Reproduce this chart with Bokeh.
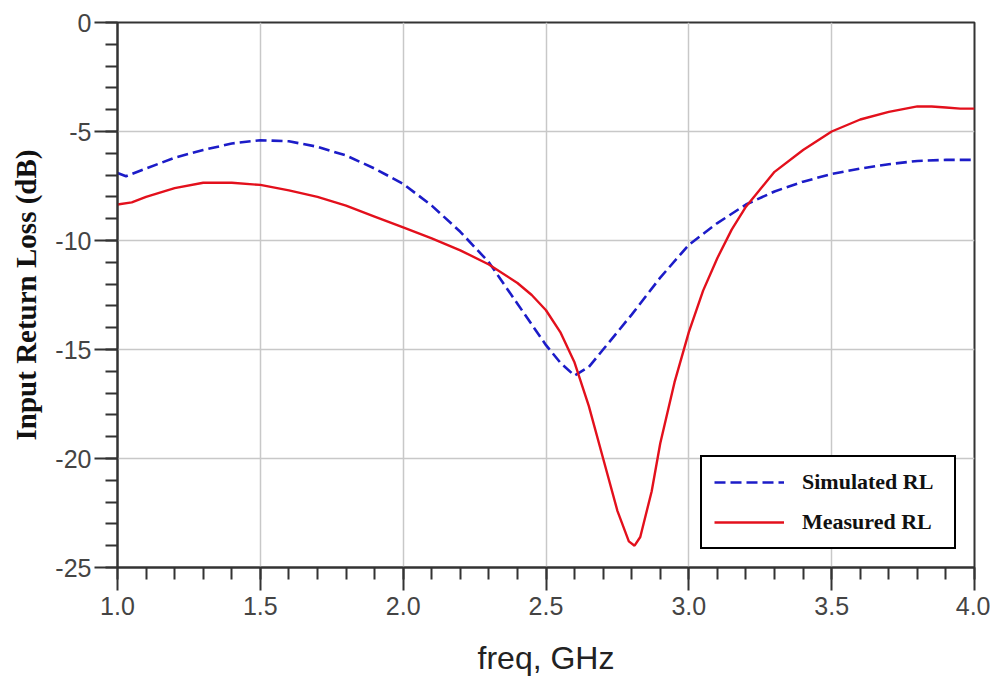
from bokeh.plotting import figure
from bokeh.models import FixedTicker, Range1d, Legend, LegendItem, CustomJSTickFormatter
from bokeh.embed import file_html
from bokeh.resources import INLINE

freq_sim = [1.0, 1.03, 1.1, 1.2, 1.3, 1.4, 1.5, 1.6, 1.7, 1.8, 1.9, 2.0, 2.1, 2.2, 2.3,
            2.4, 2.5, 2.55, 2.6, 2.65, 2.7, 2.8, 2.9, 3.0, 3.1, 3.2, 3.3, 3.4, 3.5,
            3.6, 3.7, 3.8, 3.9, 4.0]
sim_rl = [-6.9, -7.05, -6.7, -6.2, -5.85, -5.55, -5.4, -5.45, -5.7, -6.1, -6.7, -7.4,
          -8.4, -9.6, -11.0, -12.9, -14.8, -15.6, -16.2, -15.8, -15.0, -13.4, -11.7,
          -10.2, -9.2, -8.35, -7.75, -7.3, -6.95, -6.7, -6.5, -6.35, -6.3, -6.3]

freq_meas = [1.0, 1.05, 1.1, 1.2, 1.3, 1.4, 1.5, 1.6, 1.7, 1.8, 1.9, 2.0, 2.1, 2.2,
             2.3, 2.4, 2.45, 2.5, 2.55, 2.6, 2.65, 2.7, 2.75, 2.79, 2.81, 2.83, 2.87,
             2.9, 2.95, 3.0, 3.05, 3.1, 3.15, 3.2, 3.3, 3.4, 3.5, 3.6, 3.7, 3.8,
             3.85, 3.9, 3.95, 4.0]
meas_rl = [-8.35, -8.25, -8.0, -7.6, -7.35, -7.35, -7.45, -7.7, -8.0, -8.4, -8.9,
           -9.4, -9.9, -10.45, -11.1, -11.95, -12.5, -13.2, -14.2, -15.6, -17.6,
           -20.0, -22.4, -23.8, -24.0, -23.6, -21.5, -19.3, -16.5, -14.2, -12.3,
           -10.8, -9.5, -8.45, -6.85, -5.85, -5.0, -4.45, -4.1, -3.85, -3.85,
           -3.9, -3.95, -3.95]

x_ticks = [1.0, 1.5, 2.0, 2.5, 3.0, 3.5, 4.0]
x_minor = [round(1.0 + 0.1 * i, 1) for i in range(31)]
y_ticks = [-25, -20, -15, -10, -5, 0]
y_minor = list(range(-25, 1))

p = figure(width=990, height=680, output_backend="svg", toolbar_location=None,
           x_range=Range1d(1.0, 4.0), y_range=Range1d(-25, 0),
           min_border_left=117, min_border_top=22, min_border_right=16,
           min_border_bottom=113, background_fill_color="white",
           border_fill_color="white")

p.outline_line_color = "#333333"
p.outline_line_width = 2
p.outline_line_alpha = 1

for ax in (p.xaxis[0], p.yaxis[0]):
    ax.axis_line_color = "#333333"
    ax.axis_line_width = 2
    ax.major_tick_line_color = "#333333"
    ax.major_tick_line_width = 2
    ax.minor_tick_line_color = "#333333"
    ax.minor_tick_line_width = 2
    ax.major_tick_in = 0
    ax.major_tick_out = 23
    ax.minor_tick_in = 0
    ax.minor_tick_out = 12
    ax.major_label_text_font = "Liberation Sans"
    ax.major_label_text_font_size = "25px"
    ax.major_label_text_color = "#444444"

p.xaxis.ticker = FixedTicker(ticks=x_ticks, minor_ticks=x_minor)
p.yaxis.ticker = FixedTicker(ticks=y_ticks, minor_ticks=y_minor)
p.xaxis.formatter = CustomJSTickFormatter(code="return tick.toFixed(1);")
p.yaxis.formatter = CustomJSTickFormatter(code="return tick.toFixed(0);")
p.xaxis.major_label_standoff = 6
p.yaxis.major_label_standoff = 3

p.xaxis.axis_label = "freq, GHz"
p.xaxis.axis_label_text_font = "Liberation Sans"
p.xaxis.axis_label_text_font_style = "normal"
p.xaxis.axis_label_text_font_size = "32px"
p.xaxis.axis_label_text_color = "#222222"
p.xaxis.axis_label_standoff = 22

p.yaxis.axis_label = "Input Return Loss (dB)"
p.yaxis.axis_label_text_font = "Liberation Serif"
p.yaxis.axis_label_text_font_style = "bold"
p.yaxis.axis_label_text_font_size = "29px"
p.yaxis.axis_label_text_color = "#111111"
p.yaxis.axis_label_standoff = 10

p.xgrid.grid_line_color = "#c8c8c8"
p.ygrid.grid_line_color = "#c8c8c8"
p.xgrid.grid_line_width = 1.5
p.ygrid.grid_line_width = 1.5

r_sim = p.line(freq_sim, sim_rl, line_color="#1c1cc8", line_width=2.6,
               line_dash="11 5")
r_meas = p.line(freq_meas, meas_rl, line_color="#e3101c", line_width=2.4)

legend = Legend(items=[LegendItem(label="Simulated RL", renderers=[r_sim]),
                       LegendItem(label="Measured RL", renderers=[r_meas])],
                location="bottom_right")
legend.margin = 18
legend.border_line_color = "black"
legend.border_line_width = 2.5
legend.border_line_alpha = 1
legend.background_fill_color = "white"
legend.background_fill_alpha = 1
legend.label_text_font = "Liberation Serif"
legend.label_text_font_style = "bold"
legend.label_text_font_size = "22px"
legend.label_text_color = "#111111"
legend.glyph_width = 70
legend.glyph_height = 24
legend.spacing = 14
legend.padding = 12
legend.label_standoff = 18
legend.label_width = 140
legend.item_background_fill_alpha = 0
p.add_layout(legend)

open("out.html", "w").write(file_html(p, INLINE))
